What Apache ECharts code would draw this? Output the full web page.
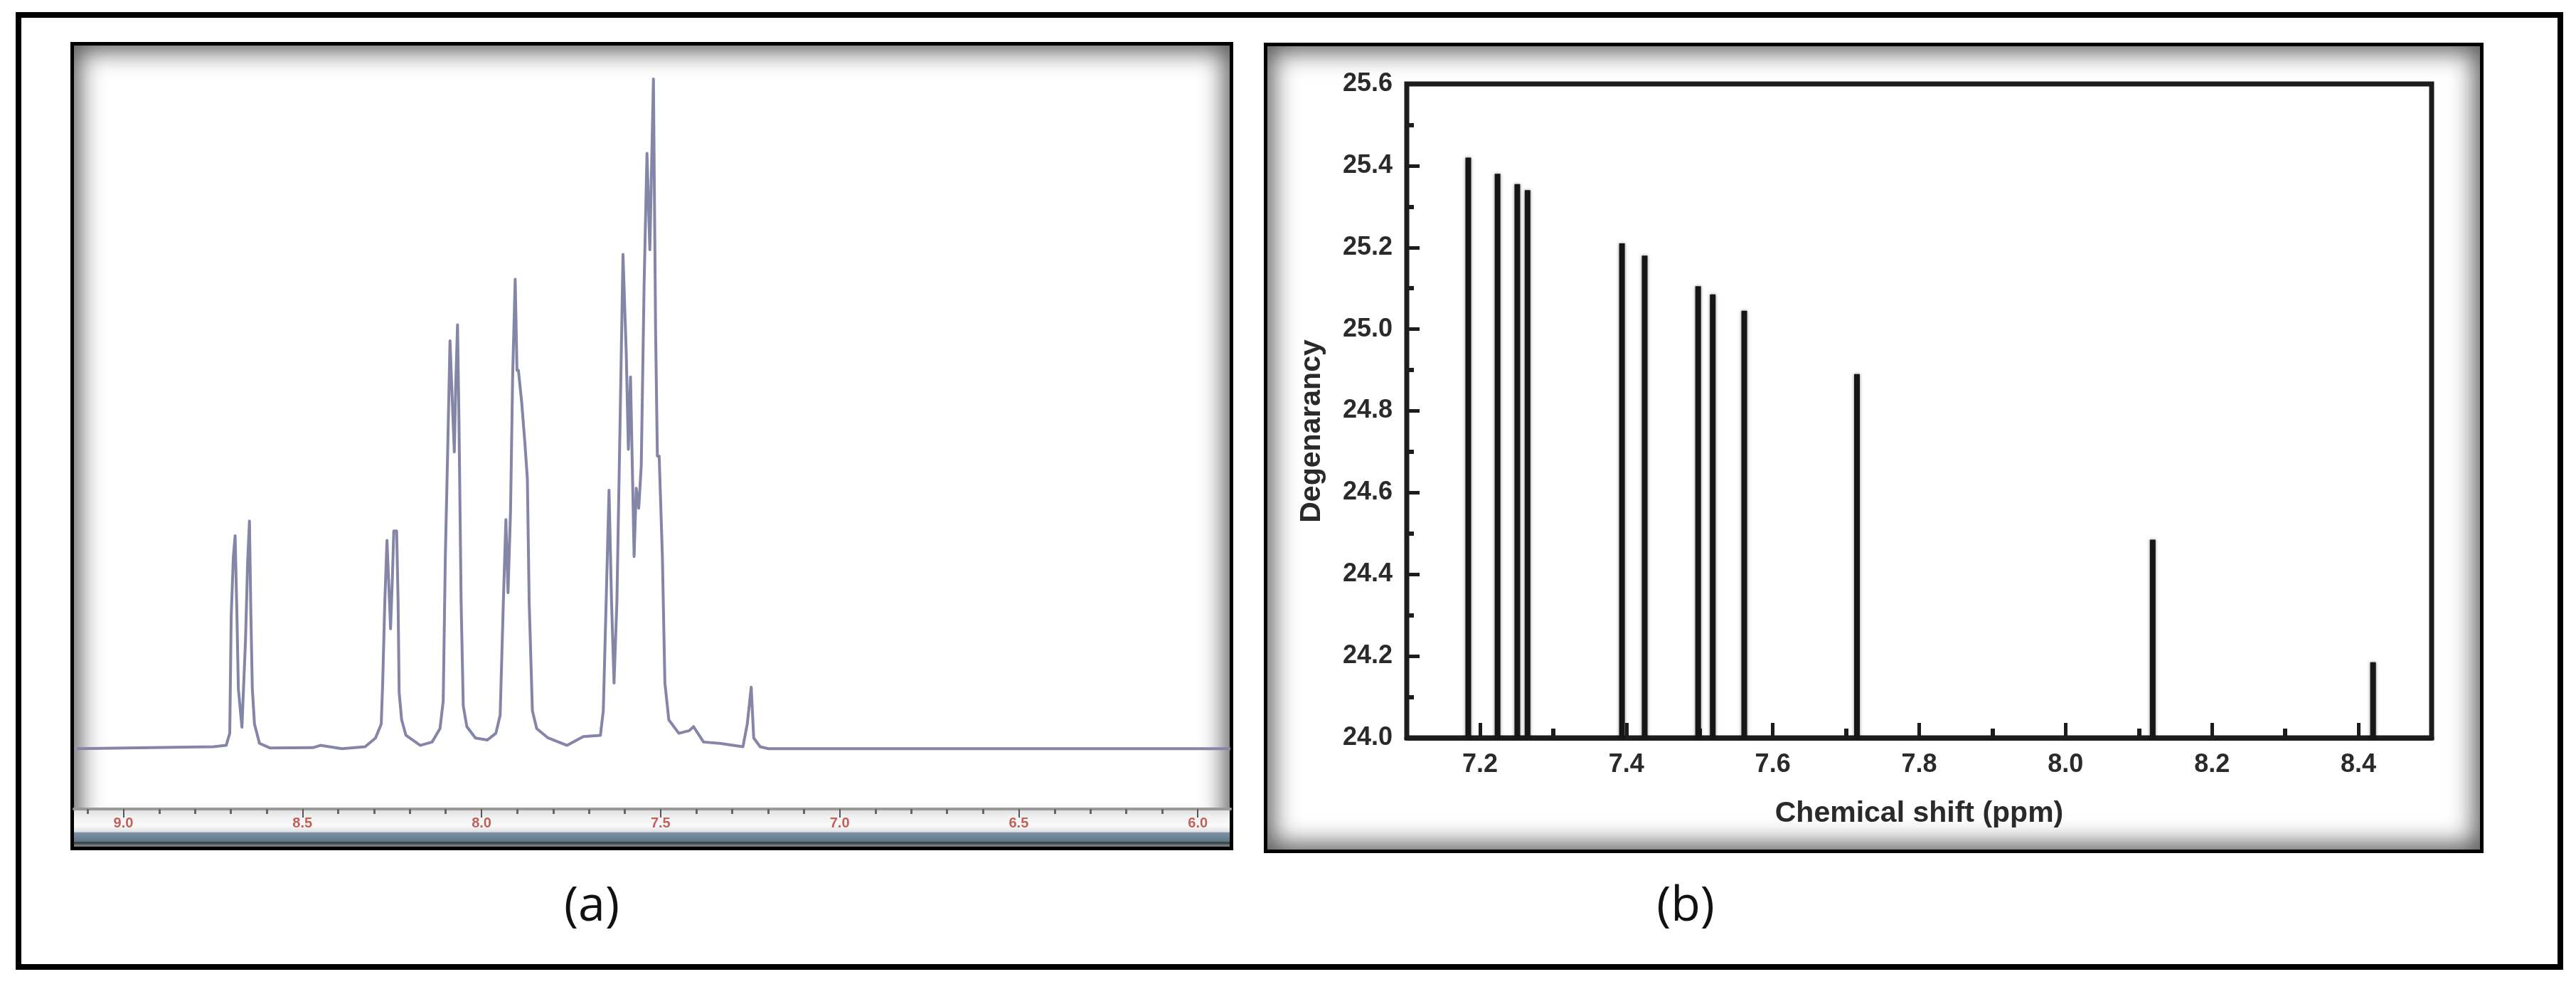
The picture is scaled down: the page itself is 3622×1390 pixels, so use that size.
<!DOCTYPE html>
<html>
<head>
<meta charset="utf-8">
<title>NMR spectrum and degeneracy</title>
<script src="https://cdn.jsdelivr.net/npm/echarts@6/dist/echarts.min.js"></script>
<style>
	html, body { margin: 0; padding: 0; background: #fff; }
	#page { position: relative; width: 3622px; height: 1390px; overflow: hidden; }
	.frame { position: absolute; box-sizing: border-box; left: 22px; top: 17px; width: 3582px; height: 1346px; border: 8px solid #000; }
	.panel { position: absolute; box-sizing: border-box; border: 5px solid #000; background: #fff; overflow: hidden;
		box-shadow: inset 0 0 34px 8px rgba(0, 0, 0, .66); }
	#panelA { left: 99px; top: 59px; width: 1635px; height: 1136px; }
	#panelB { left: 1777px; top: 60px; width: 1715px; height: 1139px; }
	#strip { position: absolute; left: 0; right: 0; bottom: 0; height: 53px;
		background: linear-gradient(to bottom, #dcdcdc 0, #f0f0f0 20%, #fafafa 45%, #dedede 61%, #8095ab 62%, #5f7686 86%, #3c4b50 87%, #3c4b50 93%, #777 94%, #777 100%); }
	#chart { position: absolute; left: 0; top: 0; width: 3622px; height: 1390px; }
</style>
</head>
<body>
<div id="page">
	<div class="frame"></div>
	<div class="panel" id="panelA"><div id="strip"></div></div>
	<div class="panel" id="panelB"></div>
	<div id="chart"></div>
</div>
<script>
	// (a) 1H NMR trace. intensity is relative to the tallest peak
	var specPpm = [9.130, 8.749, 8.713, 8.703, 8.699, 8.693, 8.688, 8.683, 8.679, 8.669, 8.659, 8.653, 8.648, 8.644, 8.640, 8.634, 8.620, 8.590,
		8.471, 8.450, 8.390, 8.325, 8.296, 8.280, 8.276, 8.270, 8.264, 8.258, 8.254, 8.249, 8.245, 8.237, 8.233, 8.230, 8.223, 8.211, 8.171, 8.138,
		8.116, 8.107, 8.101, 8.094, 8.088, 8.081, 8.076, 8.072, 8.067, 8.063, 8.057, 8.051, 8.041, 8.017, 7.984, 7.960, 7.948, 7.939, 7.932, 7.926,
		7.919, 7.913, 7.906, 7.901, 7.897, 7.888, 7.879, 7.872, 7.867, 7.858, 7.846, 7.814, 7.761, 7.716, 7.668, 7.660, 7.652, 7.644, 7.637, 7.630,
		7.622, 7.613, 7.605, 7.596, 7.590, 7.584, 7.579, 7.574, 7.568, 7.561, 7.554, 7.546, 7.538, 7.530, 7.520, 7.514, 7.509, 7.504, 7.495, 7.488,
		7.477, 7.449, 7.420, 7.408, 7.380, 7.335, 7.270, 7.258, 7.247, 7.240, 7.222, 7.199, 5.909]
	var specInt = [0, 0.3, 0.5, 2.3, 19.7, 28.6, 31.8, 20, 9.0, 3.2, 16.2, 28, 34.0, 20, 9.0, 3.7, 0.8, 0.1,
		0.15, 0.5, 0, 0.3, 1.6, 3.7, 9.8, 22.0, 31.1, 23.3, 17.9, 25.4, 32.5, 32.5, 22.0, 8.4, 4.3, 2.0, 0.5, 1.0,
		3.0, 7.1, 28.8, 45.7, 60.9, 51.1, 44.3, 54.5, 63.3, 49.1, 22.0, 6.4, 3.3, 1.6, 1.3, 2.3, 5.0, 22.0, 34.2, 23.3,
		35.5, 55.9, 70.1, 56.5, 56.5, 51.8, 45.7, 40.3, 22.0, 5.7, 3.0, 1.6, 0.5, 1.8, 2.0, 5.7, 22.0, 38.6, 22.0, 9.8,
		22.0, 49.1, 73.8, 59.2, 44.7, 55.5, 42.3, 28.7, 38.9, 35.9, 42.3, 69.4, 88.9, 74.5, 100, 62.6, 43.7, 43.7, 28.7, 9.8,
		4.3, 2.3, 2.7, 3.3, 1.0, 0.8, 0.3, 3.7, 9.2, 1.6, 0.3, 0, 0]
	var ticksA = [9.0, 8.5, 8.0, 7.5, 7.0, 6.5, 6.0]
	var minorTicksA = [9.1, 8.9, 8.8, 8.7, 8.6, 8.4, 8.3, 8.2, 8.1, 7.9, 7.8, 7.7, 7.6, 7.4, 7.3, 7.2, 7.1, 6.9, 6.8, 6.7, 6.6, 6.4, 6.3, 6.2, 6.1]

	// (b) stick plot
	var barPpm = [7.184, 7.224, 7.251, 7.265, 7.394, 7.425, 7.498, 7.518, 7.561, 7.715, 8.119, 8.420]
	var barDegeneracy = [25.42, 25.38, 25.355, 25.34, 25.21, 25.18, 25.105, 25.085, 25.045, 24.89, 24.485, 24.185]
	var ticksB = [7.2, 7.4, 7.6, 7.8, 8.0, 8.2, 8.4]
	var minorTicksB = [7.3, 7.5, 7.7, 7.9, 8.1, 8.3]

	var nameB = 'Chemical shift (ppm)'
	var nameY = 'Degenarancy'
	var panelLabels = ['(a)', '(b)']

	function zip(xs, ys) {
		return xs.map(function (x, i) {
			return [x, ys[i]]
		})
	}

	function oneDecimal(v) {
		return v.toFixed(1)
	}

	var labelFont = '"Liberation Sans", Arial, sans-serif'
	var axisBlack = '#1c1c1c'

	var option = {
		animation: false,
		backgroundColor: 'transparent',
		grid: [
			{ left: 104, right: 1892, top: 111, bottom: 253 },
			{
				left: 1978, right: 203, top: 118, bottom: 353,
				show: true, borderColor: axisBlack, borderWidth: 7
			}
		],
		xAxis: [
			// the major ticks carry the labels, the second axis on each grid only draws the short ticks
			{
				gridIndex: 0,
				type: 'value',
				inverse: true,
				min: 5.909,
				max: 9.138,
				splitLine: { show: false },
				axisLine: { onZero: false, lineStyle: { color: '#9a9a9a', width: 4 } },
				axisTick: { customValues: ticksA, length: 12, lineStyle: { color: '#555', width: 2 } },
				axisLabel: {
					customValues: ticksA,
					color: '#c2605c', fontFamily: labelFont, fontWeight: 'bold', fontSize: 20, margin: 10,
					formatter: oneDecimal
				}
			},
			{
				gridIndex: 0,
				type: 'value',
				inverse: true,
				min: 5.909,
				max: 9.138,
				position: 'bottom',
				splitLine: { show: false },
				axisLine: { show: false, onZero: false },
				axisTick: { customValues: minorTicksA, length: 7, lineStyle: { color: '#666', width: 3 } },
				axisLabel: { show: false }
			},
			{
				gridIndex: 1,
				type: 'value',
				min: 7.1,
				max: 8.5,
				splitLine: { show: false },
				axisLine: { onZero: false, lineStyle: { color: axisBlack, width: 7 } },
				axisTick: { customValues: ticksB, inside: true, length: 21, lineStyle: { color: axisBlack, width: 5 } },
				axisLabel: {
					customValues: ticksB,
					color: '#2a2a2a', fontFamily: labelFont, fontWeight: 'bold', fontSize: 36, margin: 20,
					formatter: oneDecimal
				},
				name: nameB,
				nameLocation: 'middle',
				nameGap: 86,
				nameTextStyle: { color: '#2a2a2a', fontFamily: labelFont, fontWeight: 'bold', fontSize: 41 }
			},
			{
				gridIndex: 1,
				type: 'value',
				min: 7.1,
				max: 8.5,
				position: 'bottom',
				splitLine: { show: false },
				axisLine: { show: false, onZero: false },
				axisTick: { customValues: minorTicksB, inside: true, length: 13, lineStyle: { color: axisBlack, width: 6 } },
				axisLabel: { show: false }
			}
		],
		yAxis: [
			{
				gridIndex: 0,
				type: 'value',
				min: -9,
				max: 100,
				show: false
			},
			{
				gridIndex: 1,
				type: 'value',
				min: 24,
				max: 25.6,
				interval: 0.2,
				splitLine: { show: false },
				axisLine: { lineStyle: { color: axisBlack, width: 6 } },
				axisTick: { inside: true, length: 18, lineStyle: { color: axisBlack, width: 5 } },
				minorTick: { show: true, splitNumber: 2, length: 10, lineStyle: { color: axisBlack, width: 6 } },
				axisLabel: {
					color: '#2a2a2a', fontFamily: labelFont, fontWeight: 'bold', fontSize: 36, margin: 20,
					formatter: oneDecimal
				}
			}
		],
		graphic: [
			{
				type: 'text', x: 1845, y: 606, rotation: Math.PI / 2, silent: true,
				style: { text: nameY, fill: '#2a2a2a', font: 'bold 41px ' + labelFont, textAlign: 'center', textVerticalAlign: 'middle' }
			},
			{
				type: 'text', x: 832, y: 1275, silent: true,
				style: { text: panelLabels[0], fill: '#111', font: '68px "Open Sans", sans-serif', textAlign: 'center', textVerticalAlign: 'middle' }
			},
			{
				type: 'text', x: 2370, y: 1275, silent: true,
				style: { text: panelLabels[1], fill: '#111', font: '68px "Open Sans", sans-serif', textAlign: 'center', textVerticalAlign: 'middle' }
			}
		],
		series: [
			{
				name: 'spectrum',
				type: 'line',
				xAxisIndex: 0,
				yAxisIndex: 0,
				data: zip(specPpm, specInt),
				symbol: 'none',
				lineStyle: { color: '#8585a8', width: 4, join: 'round' }
			},
			{
				name: 'degeneracy',
				type: 'bar',
				xAxisIndex: 2,
				yAxisIndex: 1,
				data: zip(barPpm, barDegeneracy),
				barWidth: 8,
				itemStyle: { color: '#161616', shadowColor: 'rgba(0,0,0,.45)', shadowBlur: 4 }
			}
		]
	}

	var chart = echarts.init(document.getElementById('chart'), null, { renderer: 'canvas' })
	chart.setOption(option)
</script>
</body>
</html>
